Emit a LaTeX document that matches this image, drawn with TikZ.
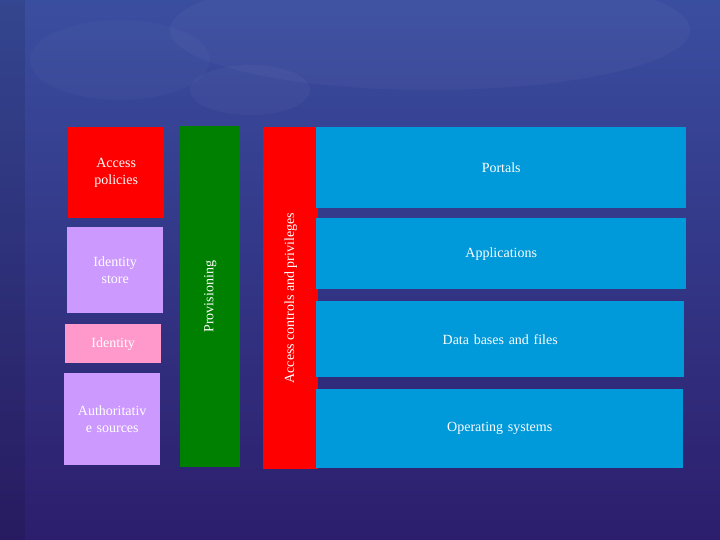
\documentclass[tikz,border=0pt]{standalone}
\usepackage{fontspec}
\setmainfont{Liberation Serif}
\definecolor{bgtop}{RGB}{58,78,160}
\definecolor{bgbot}{RGB}{44,30,108}
\definecolor{redbox}{RGB}{255,0,0}
\definecolor{lilac}{RGB}{204,153,255}
\definecolor{pinkbox}{RGB}{255,153,204}
\definecolor{greenbox}{RGB}{0,128,0}
\definecolor{bluebox}{RGB}{0,153,218}
\tikzset{
  box/.style={draw=none,inner sep=2pt,text=white,font=\fontsize{14}{17}\selectfont,align=center,anchor=north west},
  vlabel/.style={text=white,font=\fontsize{14}{17}\selectfont,rotate=90},
}
\newcommand{\bx}[7]{\node[box,fill=#6,minimum width=#4pt,minimum height=#5pt,text width=#4pt-6pt] (#1) at (#2,#3) {#7};}
\begin{document}
\begin{tikzpicture}[x=1pt,y=-1pt]
\useasboundingbox (0,0) rectangle (720,540);
\shade[top color=bgtop,bottom color=bgbot] (0,0) rectangle (720,540);
\fill[white,opacity=0.03] (430,30) ellipse (260 and 60);
\fill[white,opacity=0.03] (250,90) ellipse (60 and 25);
\fill[white,opacity=0.025] (120,60) ellipse (90 and 40);
\fill[black,opacity=0.1] (0,0) rectangle (25,540);
\bx{ap}{68}{127}{96}{91}{redbox}{Access\\policies}
\bx{is}{67}{227}{96}{86}{lilac}{Identity\\store}
\bx{id}{65}{324}{96}{39}{pinkbox}{Identity}
\bx{as}{64}{373}{96}{92}{lilac}{Authoritativ\\e sources}
\node[box,fill=greenbox,minimum width=60pt,minimum height=341pt] (pv) at (180,126) {};
\node[vlabel] (pvt) at (pv.center) {Provisioning};
\node[box,fill=redbox,minimum width=55pt,minimum height=342pt] (ac) at (263,127) {};
\node[vlabel] (act) at (ac.center) {Access controls and privileges};
\bx{po}{316}{127}{370}{81}{bluebox}{Portals}
\bx{apl}{316}{218}{370}{71}{bluebox}{Applications}
\bx{db}{316}{301}{368}{76}{bluebox}{Data bases and files}
\bx{os}{316}{389}{367}{79}{bluebox}{Operating systems}
\end{tikzpicture}
\end{document}
